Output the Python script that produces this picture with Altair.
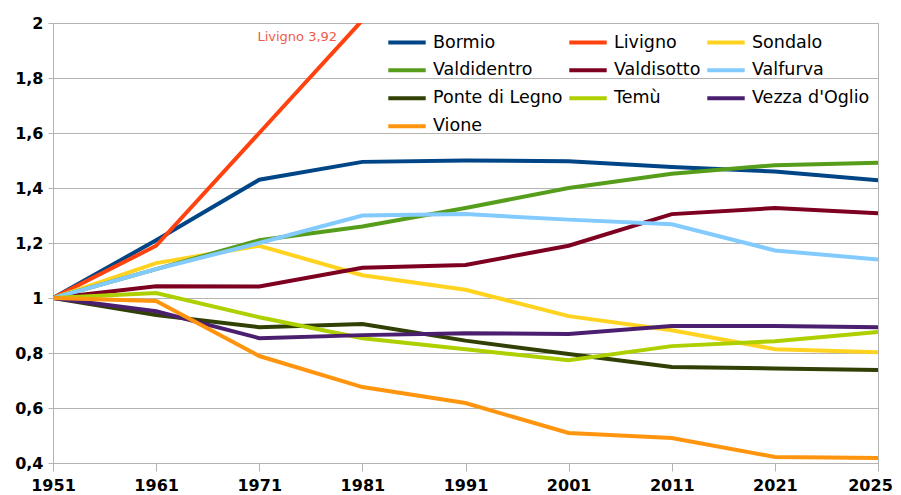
import altair as alt
import pandas as pd

years = ["1951", "1961", "1971", "1981", "1991", "2001", "2011", "2021", "2025"]

names = ["Bormio", "Livigno", "Sondalo", "Valdidentro", "Valdisotto", "Valfurva",
         "Ponte di Legno", "Temù", "Vezza d'Oglio", "Vione"]
colors = ["#004586", "#ff420e", "#ffd320", "#579d1c", "#7e0021", "#83caff",
          "#314004", "#aecf00", "#4b1f6f", "#ff950e"]

bormio = [1, 1.21, 1.43, 1.495, 1.50, 1.497, 1.476, 1.46, 1.428]
livigno = [1, 1.19, 1.60, 2.01, 2.45, 2.85, 3.30, 3.75, 3.92]
sondalo = [1, 1.127, 1.19, 1.083, 1.03, 0.934, 0.883, 0.814, 0.803]
valdidentro = [1, 1.105, 1.21, 1.26, 1.327, 1.40, 1.452, 1.483, 1.492]
valdisotto = [1, 1.043, 1.042, 1.11, 1.12, 1.19, 1.305, 1.327, 1.308]
valfurva = [1, 1.105, 1.20, 1.30, 1.305, 1.285, 1.268, 1.173, 1.14]
ponte = [1, 0.938, 0.894, 0.905, 0.845, 0.796, 0.749, 0.744, 0.738]
temu = [1, 1.018, 0.93, 0.854, 0.814, 0.774, 0.825, 0.843, 0.876]
vezza = [1, 0.952, 0.854, 0.865, 0.872, 0.869, 0.898, 0.898, 0.894]
vione = [1, 0.989, 0.789, 0.676, 0.618, 0.509, 0.491, 0.422, 0.418]

series = [bormio, livigno, sondalo, valdidentro, valdisotto, valfurva, ponte, temu, vezza, vione]

y_ticks = [0.4, 0.6, 0.8, 1.0, 1.2, 1.4, 1.6, 1.8, 2.0]

note_text = ["Livigno 3,92"]
note_year = ["1971"]
note_value = [1.95]

rows = []
for name, vals in zip(names, series):
    for yr, v in zip(years, vals):
        rows.append({"anno": yr, "valore": v, "comune": name})
df = pd.DataFrame(rows)

notes = pd.DataFrame({"anno": note_year, "valore": note_value, "testo": note_text})

FONT = "DejaVu Sans"
GREY = "#b3b3b3"

x_enc = alt.X("anno:O", sort=years,
              scale=alt.Scale(type="point", padding=0, domain=years),
              axis=alt.Axis(title=None, labelAngle=0, grid=False, ticks=True,
                            tickSize=8, labelPadding=6,
                            labelOffset={"expr": "datum.value == '2025' ? -8 : 0"}))
y_enc = alt.Y("valore:Q", scale=alt.Scale(domain=[0.4, 2], nice=False, zero=False),
              axis=alt.Axis(title=None, values=y_ticks, grid=True, tickSize=5,
                            labelPadding=5,
                            labelExpr="replace(format(datum.value, '.1~f'), '.', ',')"))

lines = alt.Chart(df).mark_line(strokeWidth=4, clip=True).encode(
    x=x_enc,
    y=y_enc,
    color=alt.Color("comune:N", sort=names,
                    scale=alt.Scale(domain=names, range=colors),
                    legend=alt.Legend(title=None, orient="none", legendX=333, legendY=5.5,
                                      direction="horizontal",
                                      columns=3, symbolType="stroke", symbolStrokeWidth=4,
                                      symbolSize=1400, clipHeight=27.5,
                                      labelFont=FONT, labelFontSize=17.5,
                                      labelColor="#000000", rowPadding=0,
                                      columnPadding=4, labelOffset=5, labelLimit=300)),
    order=alt.Order("anno:O"),
)

note = alt.Chart(notes).mark_text(font=FONT, fontSize=13, color="#f05a4a", dx=38,
                                  align="center", baseline="middle").encode(
    x=alt.X("anno:O", sort=years), y="valore:Q", text="testo:N")

chart = alt.layer(lines, note).properties(
    width=825, height=440,
    background="white",
    autosize=alt.AutoSizeParams(type="none"),
    padding={"left": 45, "top": 15, "right": 15, "bottom": 32},
).configure_view(stroke=GREY, strokeWidth=1).configure_axis(
    labelFont=FONT, labelFontSize=16, labelFontWeight="bold", labelColor="#000000",
    domainColor=GREY, tickColor=GREY, gridColor=GREY, gridWidth=1,
)

chart.save("out.html", embed_options={"renderer": "svg", "actions": False})
